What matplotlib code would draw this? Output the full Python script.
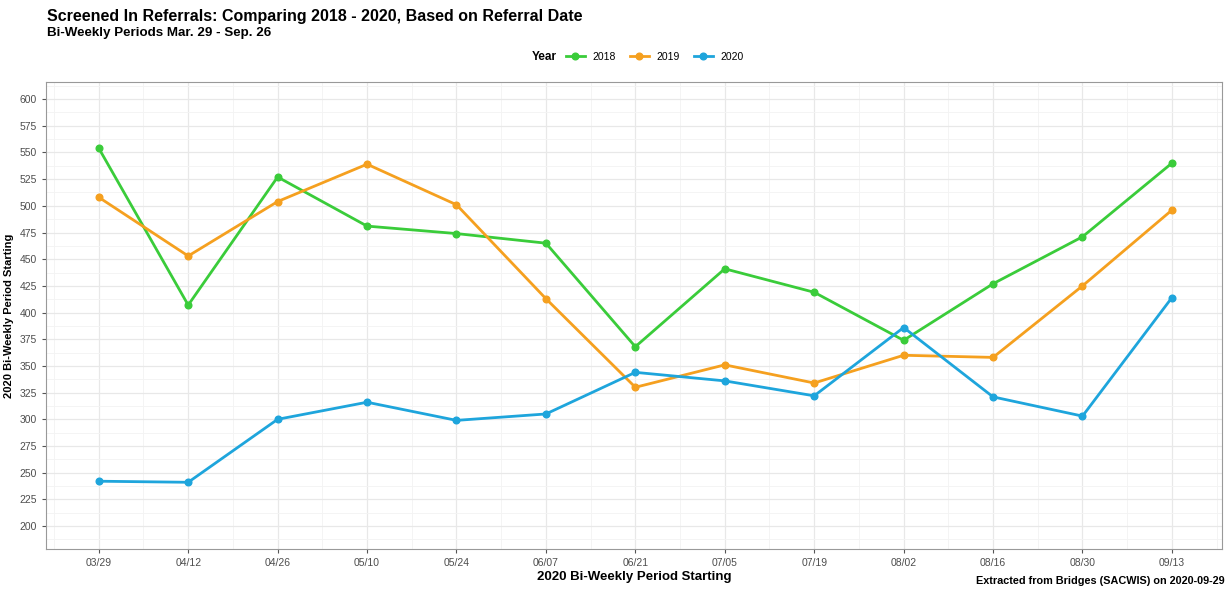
import matplotlib
matplotlib.use("Agg")
import matplotlib.pyplot as plt
from matplotlib.ticker import MultipleLocator

periods = ["03/29", "04/12", "04/26", "05/10", "05/24", "06/07", "06/21",
           "07/05", "07/19", "08/02", "08/16", "08/30", "09/13"]
y2018 = [554, 407, 527, 481, 474, 465, 368, 441, 419, 374, 427, 471, 540]
y2019 = [508, 453, 504, 539, 501, 413, 330, 351, 334, 360, 358, 425, 496]
y2020 = [242, 241, 300, 316, 299, 305, 344, 336, 322, 386, 321, 303, 414]
years = ["2018", "2019", "2020"]
colors = ["#3ACC3A", "#F5A01F", "#1EA5DC"]

plt.rcParams['font.family'] = ['Liberation Sans', 'DejaVu Sans']

fig = plt.figure(figsize=(12.31, 5.90), dpi=100)
ax = fig.add_axes([46/1231, 1 - 549/590, (1222-46)/1231, (549-82)/590])

x = list(range(len(periods)))
lines = []
for vals, c, lab in zip([y2018, y2019, y2020], colors, years):
    ln, = ax.plot(x, vals, color=c, lw=2.0, marker='o', ms=4.8, label=lab)
    lines.append(ln)

ax.set_xlim(-0.59, 12.56)
ax.set_ylim(178.5, 616)
ax.set_xticks(x)
ax.set_xticklabels(periods)
ax.yaxis.set_major_locator(MultipleLocator(25))
ax.yaxis.set_minor_locator(MultipleLocator(12.5))
ax.set_xticks([i + 0.5 for i in range(-1, 13)], minor=True)
ax.grid(True, which='major', color='#e8e8e8', lw=0.9)
ax.grid(True, which='minor', color='#f3f3f3', lw=0.6)
ax.set_axisbelow(True)
ax.tick_params(which='major', labelsize=7.5, colors='#555555', length=3, labelcolor='#4d4d4d')
ax.tick_params(which='minor', length=0)
for s in ax.spines.values():
    s.set_color('#999999')
    s.set_linewidth(0.8)

ax.set_xlabel("2020 Bi-Weekly Period Starting", fontsize=9.5, fontweight='bold', labelpad=2)
ax.set_ylabel("2020 Bi-Weekly Period Starting", fontsize=8, fontweight='bold', labelpad=4)

fig.text(47/1231, 1 - 17/590, "Screened In Referrals: Comparing 2018 - 2020, Based on Referral Date",
         fontsize=11.5, fontweight='bold', va='center', ha='left')
fig.text(47/1231, 1 - 33/590, "Bi-Weekly Periods Mar. 29 - Sep. 26",
         fontsize=9.6, fontweight='bold', va='center', ha='left')
fig.text(532/1231, 1 - 57/590, "Year", fontsize=8.5, fontweight='bold', va='center', ha='left')
fig.legend(handles=lines, labels=years, loc='center left', bbox_to_anchor=(566/1231, 1 - 57/590),
           ncol=3, frameon=False, fontsize=7.5, handlelength=1.8, columnspacing=1.4, handletextpad=0.7,
           borderpad=0, borderaxespad=0)
fig.text(1225/1231, 1 - 581/590, "Extracted from Bridges (SACWIS) on 2020-09-29",
         fontsize=7.8, fontweight='bold', va='center', ha='right')

fig.savefig("out.png", dpi=100)
